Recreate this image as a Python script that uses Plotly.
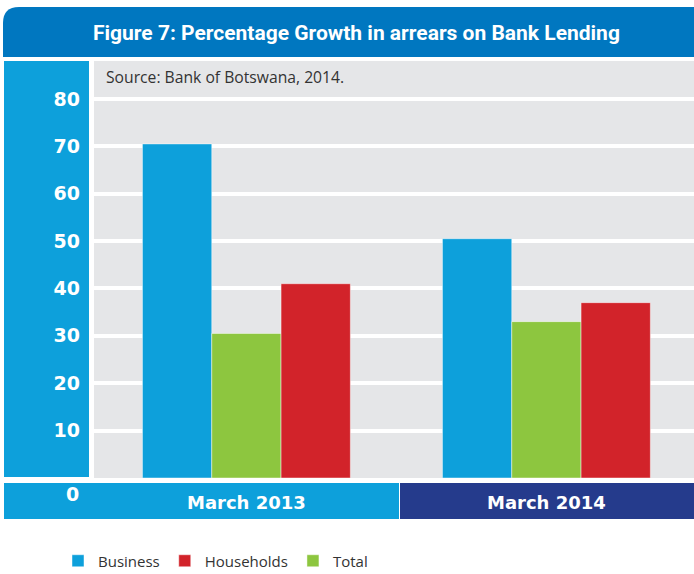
import plotly.graph_objects as go

# Data
categories = ["March 2013", "March 2014"]
business = [70.5, 50.5]
total = [30.5, 33.0]
households = [41.0, 37.0]
y_ticks = [10, 20, 30, 40, 50, 60, 70, 80]

W, H = 694, 574

LIGHT_BLUE = "#0DA0DB"
TITLE_BLUE = "#0077C0"
NAVY = "#253B8C"
GREEN = "#8DC63F"
RED = "#D2232A"
PLOT_GRAY = "#E5E6E8"
NUM_FONT = "DejaVu Sans"


def px(x):
    return x / W


def py(y):
    return 1 - y / H


fig = go.Figure()

bar_line = dict(width=1, color="rgba(255,255,255,0.45)")
fig.add_trace(go.Bar(name="Business", x=categories, y=business,
                     marker=dict(color=LIGHT_BLUE, line=bar_line), legendrank=1))
fig.add_trace(go.Bar(name="Total", x=categories, y=total,
                     marker=dict(color=GREEN, line=bar_line), legendrank=3))
fig.add_trace(go.Bar(name="Households", x=categories, y=households,
                     marker=dict(color=RED, line=bar_line), legendrank=2))

shapes = []
# title banner with a rounded top-left corner
r = 16
x0, x1, y0, y1 = 3, 694, 7, 57
path = (f"M {px(x0)},{py(y1)} L {px(x0)},{py(y0 + r)} "
        f"Q {px(x0)},{py(y0)} {px(x0 + r)},{py(y0)} "
        f"L {px(x1)},{py(y0)} L {px(x1)},{py(y1)} Z")
shapes.append(dict(type="path", xref="paper", yref="paper", path=path,
                   fillcolor=TITLE_BLUE, line=dict(width=0), layer="below"))
# left value column
shapes.append(dict(type="rect", xref="paper", yref="paper",
                   x0=px(4), x1=px(89), y0=py(477), y1=py(61),
                   fillcolor=LIGHT_BLUE, line=dict(width=0), layer="below"))
# category band under the plot
shapes.append(dict(type="rect", xref="paper", yref="paper",
                   x0=px(4), x1=px(399), y0=py(519), y1=py(483),
                   fillcolor=LIGHT_BLUE, line=dict(width=0), layer="below"))
shapes.append(dict(type="rect", xref="paper", yref="paper",
                   x0=px(400), x1=px(694), y0=py(519), y1=py(483),
                   fillcolor=NAVY, line=dict(width=0), layer="below"))

annotations = [
    dict(text="Figure 7: Percentage Growth in arrears on Bank Lending",
         x=px(356), y=py(33), xref="paper", yref="paper", showarrow=False,
         xanchor="center", yanchor="middle",
         font=dict(family="Roboto", size=21, color="white", weight="bold")),
    dict(text="Source: Bank of Botswana, 2014.",
         x=px(104), y=py(77), xref="paper", yref="paper", showarrow=False,
         xanchor="left", yanchor="middle",
         font=dict(family="Open Sans", size=15.7, color="#333333")),
    dict(text="0", x=px(72), y=py(494), xref="paper", yref="paper",
         showarrow=False, xanchor="center", yanchor="middle",
         font=dict(family=NUM_FONT, size=19, color="white", weight="bold")),
]

shift = 0.008
fig.update_layout(
    width=W, height=H,
    margin=dict(l=0, r=0, t=0, b=0, autoexpand=False),
    paper_bgcolor="white",
    plot_bgcolor=PLOT_GRAY,
    barmode="group",
    bargap=0.307,
    bargroupgap=0,
    shapes=shapes,
    annotations=annotations,
    showlegend=True,
    legend=dict(orientation="h", x=px(58), y=py(561), xanchor="left",
                yanchor="middle",
                font=dict(family="Open Sans", size=15, color="#333333"),
                bgcolor="rgba(0,0,0,0)", itemwidth=30, traceorder="normal"),
    xaxis=dict(domain=[px(94), 1], range=[-0.5 - shift, 1.5 - shift],
               showgrid=False, zeroline=False, showline=False, ticks="",
               ticklabelstandoff=12,
               tickfont=dict(family=NUM_FONT, size=18, color="white", weight="bold")),
    yaxis=dict(domain=[py(478), py(61)], range=[0, 88], tickvals=y_ticks,
               showgrid=True, gridcolor="white", gridwidth=4,
               zeroline=False, showline=False, ticks="",
               ticklabelstandoff=13,
               tickfont=dict(family=NUM_FONT, size=19, color="white", weight="bold")),
)

fig.write_html("out.html")
